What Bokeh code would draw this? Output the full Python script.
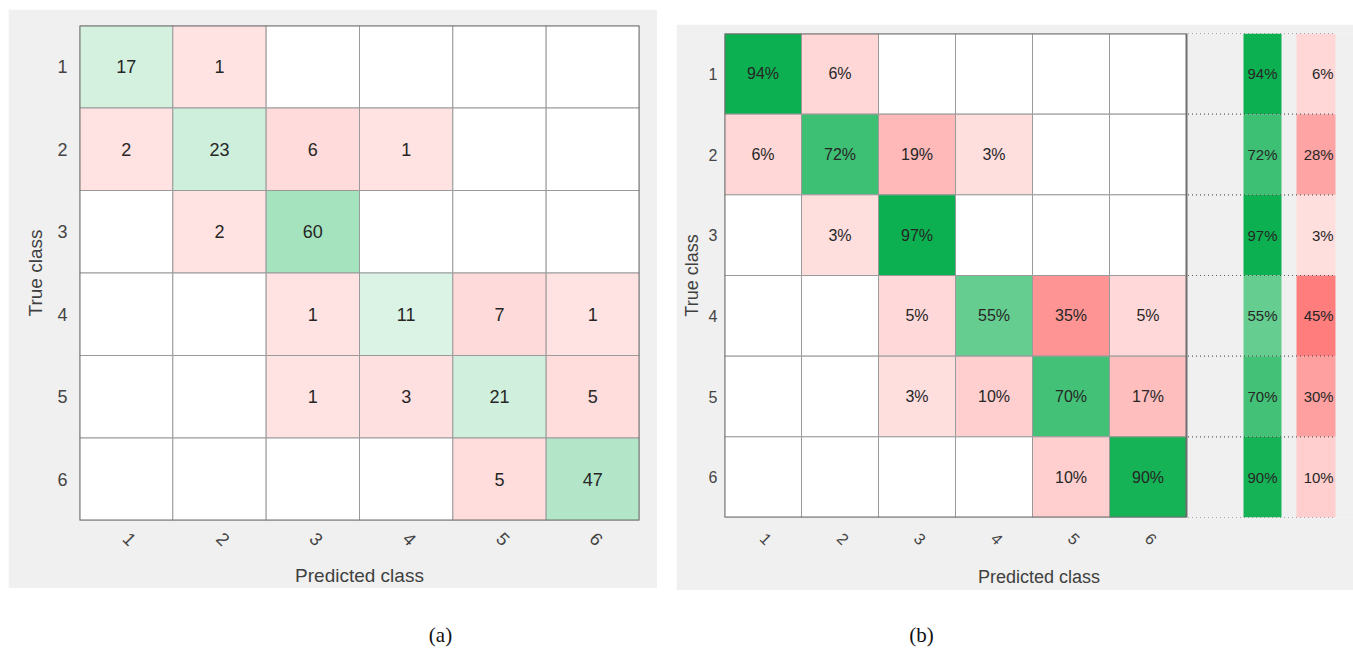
import math
from bokeh.plotting import figure
from bokeh.models import ColumnDataSource, Range1d, FixedTicker, Label, Spacer
from bokeh.layouts import row, column
from bokeh.core.properties import value
from bokeh.embed import file_html
from bokeh.resources import INLINE

# ---------------- data ----------------
classes = ["1", "2", "3", "4", "5", "6"]
counts_a = [
    [17, 1, 0, 0, 0, 0],
    [2, 23, 6, 1, 0, 0],
    [0, 2, 60, 0, 0, 0],
    [0, 0, 1, 11, 7, 1],
    [0, 0, 1, 3, 21, 5],
    [0, 0, 0, 0, 5, 47],
]
pct_b = [
    [94, 6, 0, 0, 0, 0],
    [6, 72, 19, 3, 0, 0],
    [0, 3, 97, 0, 0, 0],
    [0, 0, 5, 55, 35, 5],
    [0, 0, 3, 10, 70, 17],
    [0, 0, 0, 0, 10, 90],
]
row_correct = [94, 72, 97, 55, 70, 90]
row_error = [6, 28, 3, 45, 30, 10]
caption_a = "(a)"
caption_b = "(b)"

# ---------------- style ----------------
FONT = value("Liberation Sans")
GRAY_BG = "#f0f0f0"
GREEN = (12, 176, 80)
RED = (255, 100, 100)
TXT = "#262626"
LAB = "#404040"


def mix(base, t):
    t = max(0.0, min(1.0, t))
    return "#%02x%02x%02x" % tuple(int(round(255 + (c - 255) * t)) for c in base)


def color_a(v, diag):
    if v == 0:
        return "#ffffff"
    return mix(GREEN, 0.1 + 0.0045 * v) if diag else mix(RED, 0.17 + 0.01 * v)


def color_b(p, diag):
    if p == 0:
        return "#ffffff"
    return mix(GREEN, 0.11 + 0.0095 * p) if diag else mix(RED, 0.17 + 0.0148 * p)


n = len(classes)


def style_axes(p, tick_size, label_size, xtick_so, xlab_so, ytick_so, ylab_so):
    for ax in (p.xaxis[0], p.yaxis[0]):
        ax.ticker = FixedTicker(ticks=list(range(1, n + 1)))
        ax.major_label_overrides = {i + 1: c for i, c in enumerate(classes)}
        ax.axis_line_color = None
        ax.major_tick_line_color = None
        ax.minor_tick_line_color = None
        ax.major_tick_in = 0
        ax.major_tick_out = 0
        ax.major_label_text_font = "Liberation Sans"
        ax.major_label_text_font_size = tick_size
        ax.major_label_text_color = "#444444"
        ax.axis_label_text_font = "Liberation Sans"
        ax.axis_label_text_font_size = label_size
        ax.axis_label_text_font_style = "normal"
        ax.axis_label_text_color = LAB
    p.xaxis.axis_label = "Predicted class"
    p.yaxis.axis_label = "True class"
    p.xaxis.major_label_orientation = -math.pi / 4
    p.xaxis.major_label_standoff = xtick_so
    p.xaxis.axis_label_standoff = xlab_so
    p.yaxis.major_label_standoff = ytick_so
    p.yaxis.axis_label_standoff = ylab_so
    p.xgrid.grid_line_color = None
    p.ygrid.grid_line_color = None


def cells(mat, colfn, fmt):
    xs, ys, cs, ts = [], [], [], []
    for i in range(n):
        for j in range(n):
            v = mat[i][j]
            xs.append(j + 1)
            ys.append(i + 1)
            cs.append(colfn(v, i == j))
            ts.append(fmt(v) if v else "")
    return ColumnDataSource(dict(x=xs, y=ys, c=cs, t=ts))


# ---------------- panel (a) ----------------
pa = figure(width=649, height=579, x_range=Range1d(0.5, n + 0.5), y_range=Range1d(n + 0.5, 0.5),
            output_backend="svg", toolbar_location=None,
            min_border_left=71, min_border_right=18, min_border_top=16, min_border_bottom=67)
pa.background_fill_color = "#ffffff"
pa.border_fill_color = GRAY_BG
pa.outline_line_color = None
style_axes(pa, "18px", "19px", 15, 10, 12, 8)

src_a = cells(counts_a, color_a, lambda v: str(v))
pa.rect("x", "y", width=1, height=1, source=src_a, fill_color="c", line_color="#9a9a9a", line_width=1)
pa.text("x", "y", text="t", source=src_a, text_font=FONT, text_font_size="18px",
        text_align="center", text_baseline="middle", text_color=TXT)
pa.rect(x=[(n + 1) / 2], y=[(n + 1) / 2], width=n, height=n, fill_color=None,
        line_color="#6e6e6e", line_width=2)

# ---------------- panel (b) ----------------
x_end_b = 0.5 + n + 167 / 77
pb = figure(width=677, height=566, x_range=Range1d(0.5, x_end_b), y_range=Range1d(n + 0.5, 0.5),
            output_backend="svg", toolbar_location=None,
            min_border_left=48, min_border_right=0, min_border_top=9, min_border_bottom=69)
pb.background_fill_color = GRAY_BG
pb.border_fill_color = GRAY_BG
pb.outline_line_color = None
style_axes(pb, "16px", "18px", 18, 14, 7, 4)

src_b = cells(pct_b, color_b, lambda v: "%d%%" % v)
pb.rect("x", "y", width=1, height=1, source=src_b, fill_color="c", line_color="#9a9a9a", line_width=1)
pb.text("x", "y", text="t", source=src_b, text_font=FONT, text_font_size="16px",
        text_align="center", text_baseline="middle", text_color=TXT)
pb.rect(x=[(n + 1) / 2], y=[(n + 1) / 2], width=n, height=n, fill_color=None,
        line_color="#6e6e6e", line_width=2)

# summary columns
xg = n + 0.5 + (1262 - 1186) / 77
xr = n + 0.5 + (1315.5 - 1186) / 77
rows_y = list(range(1, n + 1))
src_s = ColumnDataSource(dict(
    y=rows_y,
    cg=[color_b(v, True) for v in row_correct],
    cr=[color_b(v, False) for v in row_error],
    tg=["%d%%" % v for v in row_correct],
    tr=["%d%%" % v for v in row_error],
))
pb.rect(x=xg, y="y", width=38 / 77, height=1, source=src_s, fill_color="cg", line_color=None)
pb.rect(x=xr, y="y", width=39 / 77, height=1, source=src_s, fill_color="cr", line_color=None)
pb.text(x=xg, y="y", text="tg", source=src_s, text_font=FONT, text_font_size="15px",
        text_align="center", text_baseline="middle", text_color=TXT)
pb.text(x=xr + 0.23, y="y", text="tr", source=src_s, text_font=FONT, text_font_size="15px",
        text_align="right", text_baseline="middle", text_color=TXT)
bounds = [k + 0.5 for k in range(n + 1)]
x_dot_end = n + 0.5 + (1335 - 1186) / 77
pb.segment(x0=n + 0.5 + 0.02, y0=bounds, x1=x_dot_end, y1=bounds, line_color="#555555",
           line_width=1.2, line_dash="1 3")

# ---------------- captions ----------------
cap = figure(width=1353, height=58, x_range=Range1d(0, 1353), y_range=Range1d(0, 58),
             output_backend="svg", toolbar_location=None,
             min_border=0, min_border_left=0, min_border_right=0, min_border_top=0, min_border_bottom=0)
cap.axis.visible = False
cap.grid.grid_line_color = None
cap.outline_line_color = None
cap.background_fill_color = "#ffffff"
cap.border_fill_color = "#ffffff"
for cx, t in ((440, caption_a), (921, caption_b)):
    cap.add_layout(Label(x=cx, y=4, text=t, text_align="center", text_baseline="bottom",
                         text_font="Liberation Serif", text_font_size="21px", text_color="#111111"))

layout = column(
    Spacer(height=9),
    row(Spacer(width=8), pa, Spacer(width=19), column(Spacer(height=15), pb)),
    Spacer(height=2),
    cap,
)

open("out.html", "w").write(file_html(layout, INLINE))
